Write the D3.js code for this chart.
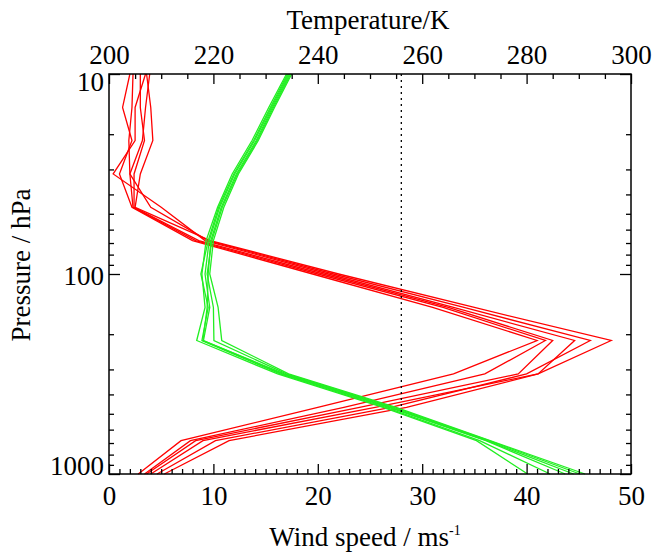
<!DOCTYPE html>
<html><head><meta charset="utf-8">
<script src="https://cdn.jsdelivr.net/npm/d3@7"></script>
<style>body{margin:0;background:#fff}svg{display:block}text{font-family:"Liberation Serif","DejaVu Serif",serif;fill:#000}</style>
</head><body><div id="chart"></div>
<script>
// pressure levels (hPa)
const levels = [1000, 681, 464, 316, 215, 147, 100, 68.1, 46.4, 31.6, 21.5, 14.7, 10];
// wind speed profiles (m/s) at each level
const wind1 = [2.8, 6.9, 20.0, 33.0, 41.0, 31.0, 19.5, 8.0, 2.2, 1.0, 2.2, 1.3, 2.0];
const wind2 = [3.4, 7.8, 22.5, 36.0, 41.8, 32.0, 20.0, 8.3, 2.3, 2.0, 1.9, 2.2, 2.3];
const wind3 = [3.6, 8.3, 24.0, 39.2, 42.5, 32.5, 20.5, 8.6, 2.4, 2.4, 3.4, 3.0, 3.0];
const wind4 = [4.0, 9.0, 25.5, 41.1, 44.6, 33.0, 21.0, 9.2, 5.0, 0.4, 2.5, 2.5, 3.5];
const wind5 = [4.6, 10.2, 27.0, 40.0, 46.1, 34.0, 21.5, 9.5, 4.0, 2.0, 3.2, 3.5, 3.9];
const wind6 = [5.3, 11.5, 28.5, 41.1, 48.1, 35.0, 22.0, 9.7, 2.5, 3.0, 4.2, 4.0, 3.6];
// temperature profiles (K) at each level
const temp1 = [280.2, 270.4, 252.5, 232.3, 216.8, 218.4, 217.8, 218.6, 220.8, 223.6, 227.4, 230.6, 234.0];
const temp2 = [284.5, 271.0, 253.0, 232.8, 217.8, 219.0, 217.6, 219.0, 221.0, 223.9, 227.7, 230.9, 234.2];
const temp3 = [287.4, 272.2, 253.6, 233.2, 218.1, 219.3, 218.4, 219.2, 221.2, 224.1, 227.9, 231.1, 234.4];
const temp4 = [289.0, 272.4, 254.0, 233.6, 218.0, 218.8, 219.0, 219.5, 221.5, 224.4, 228.2, 231.3, 234.6];
const temp5 = [290.2, 272.8, 254.5, 234.0, 220.1, 220.0, 218.8, 219.7, 221.7, 224.6, 228.4, 231.5, 234.8];
const temp6 = [291.2, 273.0, 255.0, 234.4, 221.6, 220.9, 219.3, 220.0, 222.0, 224.8, 228.6, 231.7, 235.0];
const refWind = 28;
const windTicks = [0, 10, 20, 30, 40, 50];
const tempTicks = [200, 220, 240, 260, 280, 300];
const pressTicks = [10, 100, 1000];

const W = 652, H = 552;
const L = 109, R = 631, T = 74, B = 474;
const svg = d3.select("#chart").append("svg").attr("width", W).attr("height", H);
const x = d3.scaleLinear().domain([0, 50]).range([L, R]);
const xt = d3.scaleLinear().domain([200, 300]).range([L, R]);
const y = d3.scaleLog().domain([10, 1000]).range([T, B]);

const red = "#ff0000", green = "#22ee22";
const line = (xs, vals) => d3.line().x((d, i) => xs(d)).y((d, i) => y(levels[i]))(vals);
const g = svg.append("g");
[wind1, wind2, wind3, wind4, wind5, wind6].forEach(w => {
  g.append("path").attr("d", line(x, w)).attr("fill", "none").attr("stroke", red).attr("stroke-width", 1.3);
});
[temp1, temp2, temp3, temp4, temp5, temp6].forEach(t => {
  g.append("path").attr("d", line(xt, t)).attr("fill", "none").attr("stroke", green).attr("stroke-width", 1.3);
});
svg.append("line").attr("x1", x(refWind)).attr("x2", x(refWind)).attr("y1", T).attr("y2", B)
  .attr("stroke", "#000").attr("stroke-width", 1.3).attr("stroke-dasharray", "2,4");

// axes
const fs = 27;
function styleAxis(sel) { sel.select(".domain").remove(); sel.selectAll("line").attr("stroke", "#000").attr("stroke-width", 1.3); sel.selectAll("text").style("font-size", fs + "px").attr("font-family", null); }
const minorWind = d3.range(0, 51, 1).filter(v => v % 10);
const minorTemp = d3.range(200, 301, 5).filter(v => v % 20);
const minorP = [];
[10, 100].forEach(d => { for (let k = 2; k <= 9; k++) minorP.push(d * k); });

const gb = svg.append("g").attr("transform", `translate(0,${B})`);
gb.call(d3.axisBottom(x).tickValues(windTicks).tickFormat(d3.format("d")).tickSize(-10).tickPadding(12)).call(styleAxis);
gb.append("g").call(d3.axisBottom(x).tickValues(minorWind).tickFormat("").tickSize(-5)).call(styleAxis);
const gt = svg.append("g").attr("transform", `translate(0,${T})`);
gt.call(d3.axisTop(xt).tickValues(tempTicks).tickFormat(d3.format("d")).tickSize(-10).tickPadding(10)).call(styleAxis);
gt.append("g").call(d3.axisTop(xt).tickValues(minorTemp).tickFormat("").tickSize(-5)).call(styleAxis);
const gl = svg.append("g").attr("transform", `translate(${L},0)`);
gl.call(d3.axisLeft(y).tickValues(pressTicks).tickFormat(d3.format("d")).tickSize(-11).tickPadding(5)).call(styleAxis);
gl.append("g").call(d3.axisLeft(y).tickValues(minorP).tickFormat("").tickSize(-5)).call(styleAxis);
gl.selectAll(".tick text").attr("dy", (d) => d === 10 ? "0.62em" : d === 1000 ? "0.0em" : "0.38em");
const gr = svg.append("g").attr("transform", `translate(${R},0)`);
gr.call(d3.axisRight(y).tickValues(pressTicks).tickFormat("").tickSize(-11)).call(styleAxis);
gr.append("g").call(d3.axisRight(y).tickValues(minorP).tickFormat("").tickSize(-5)).call(styleAxis);

svg.append("rect").attr("x", L).attr("y", T).attr("width", R - L).attr("height", B - T)
  .attr("fill", "none").attr("stroke", "#000").attr("stroke-width", 1.5);

svg.append("text").attr("x", (L + R) / 2 - 2).attr("y", 29).attr("text-anchor", "middle").style("font-size", fs + "px").text("Temperature/K");
const xl = svg.append("text").attr("x", (L + R) / 2 - 5).attr("y", 546).attr("text-anchor", "middle").style("font-size", fs + "px");
xl.append("tspan").text("Wind speed / ms");
xl.append("tspan").attr("dy", -11).style("font-size", "14px").text("-1");
svg.append("text").attr("transform", `translate(30,265) rotate(-90)`).attr("text-anchor", "middle").style("font-size", fs + "px").text("Pressure / hPa");
</script></body></html>
